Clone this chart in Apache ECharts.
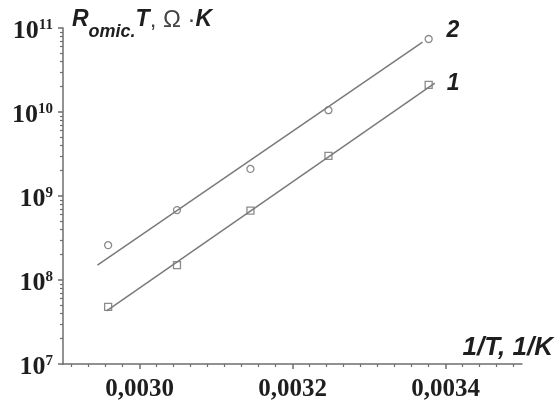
<!DOCTYPE html>
<html>
<head>
<meta charset="utf-8">
<script src="https://cdn.jsdelivr.net/npm/echarts@6/dist/echarts.min.js"></script>
<style>
  html, body { margin: 0; padding: 0; background: #fff; }
  #chart { width: 557px; height: 402px; }
</style>
</head>
<body>
<div id="chart"></div>
<script>
// Inverse temperature, 1/K
const invT = [0.002959, 0.003049, 0.003145, 0.003247, 0.003378];
// R_omic·T, Ω·K — sample 1 (squares)
const rt1 = [4.8e7, 1.5e8, 6.7e8, 3.0e9, 2.1e10];
// R_omic·T, Ω·K — sample 2 (circles)
const rt2 = [2.6e8, 6.8e8, 2.1e9, 1.05e10, 7.4e10];
// End points of the fitted straight lines
const fit1X = [0.002957, 0.003386];
const fit1Y = [4.3e7, 2.2e10];
const fit2X = [0.002945, 0.00337];
const fit2Y = [1.5e8, 6.8e10];
// Axis ticks
const xTickValues = [0.0030, 0.0032, 0.0034];
const xTickLabels = ['0,0030', '0,0032', '0,0034'];
const yTickExponents = [7, 8, 9, 10, 11];
const seriesNames = ['1', '2'];

const AXIS = '#6e6e6e';
const LINE = '#7a7a7a';
const INK = '#1e1e1e';
const xMin = 0.0029, xMax = 0.0035, xStep = 0.0002;
const yMin = Math.pow(10, yTickExponents[0]);
const yMax = Math.pow(10, yTickExponents[yTickExponents.length - 1]);

// minor ticks: nine sub-intervals between labelled x ticks
const xMinor = [];
for (let i = 0; i < 5; i++) {
  const m = (28 + 2 * i) / 10000;
  for (let k = 1; k < 9; k++) {
    const v = m + k * xStep / 9;
    if (v > xMin && v < xMax) xMinor.push(v);
  }
}
// minor ticks of the decade axis: 2..9 × 10^n
const yMinor = [];
for (let e = yTickExponents[0]; e < yTickExponents[yTickExponents.length - 1]; e++) {
  for (let k = 2; k <= 9; k++) yMinor.push(k * Math.pow(10, e));
}

const gridBox = { left: 63, top: 28, width: 459, height: 336 };
const serifBold = { fontFamily: 'Liberation Serif', fontWeight: 'bold', color: INK };
const sansBI = { fontFamily: 'Liberation Sans', fontStyle: 'italic', fontWeight: 'bold', color: INK };

const pairs = (xs, ys) => xs.map((x, i) => [x, ys[i]]);

const chart = echarts.init(document.getElementById('chart'), null, { renderer: 'canvas' });
chart.setOption({
  animation: false,
  backgroundColor: '#fff',
  grid: [Object.assign({}, gridBox), Object.assign({}, gridBox)],
  xAxis: [
    {
      gridIndex: 0, type: 'value', min: xMin, max: xMax, position: 'bottom',
      axisLine: { onZero: false, lineStyle: { color: AXIS, width: 1.5 } },
      axisTick: { customValues: xTickValues, length: 5, lineStyle: { color: AXIS, width: 1.5 } },
      axisLabel: Object.assign({
        customValues: xTickValues, fontSize: 25, margin: 13,
        formatter: v => {
          let best = 0;
          xTickValues.forEach((t, i) => { if (Math.abs(t - v) < Math.abs(xTickValues[best] - v)) best = i; });
          return xTickLabels[best];
        }
      }, serifBold),
      splitLine: { show: false },
      name: '1/T, 1/K', nameLocation: 'end', nameGap: 31,
      nameTextStyle: Object.assign({ fontSize: 26, align: 'right', verticalAlign: 'bottom', padding: [0, 0, 3, 0] }, sansBI)
    },
    {
      gridIndex: 1, type: 'value', min: xMin, max: xMax, position: 'bottom',
      axisLine: { show: false, onZero: false },
      axisTick: { customValues: xMinor, length: 3, lineStyle: { color: AXIS, width: 1.2 } },
      axisLabel: { show: false }, splitLine: { show: false }
    }
  ],
  yAxis: [
    {
      gridIndex: 0, type: 'log', logBase: 10, min: yMin, max: yMax, position: 'left',
      axisLine: { onZero: false, lineStyle: { color: AXIS, width: 1.5 } },
      axisTick: { length: 5, lineStyle: { color: AXIS, width: 1.5 } },
      axisLabel: {
        margin: 10, padding: [8, 0, 0, 0],
        formatter: v => '{b|10}{s|' + Math.round(Math.log10(v)) + '}',
        rich: {
          b: Object.assign({ fontSize: 26, lineHeight: 28, verticalAlign: 'top' }, serifBold),
          s: Object.assign({ fontSize: 15, lineHeight: 12, verticalAlign: 'top' }, serifBold)
        }
      },
      splitLine: { show: false },
      name: '{r|R}{s|omic.}{r|T}{n|, Ω ·}{r|K}',
      nameLocation: 'end', nameGap: 20,
      nameTextStyle: {
        align: 'left', verticalAlign: 'top', padding: [0, 0, 0, 9],
        rich: {
          r: Object.assign({ fontSize: 23, lineHeight: 24, verticalAlign: 'top' }, sansBI),
          s: Object.assign({ fontSize: 18, lineHeight: 16, verticalAlign: 'top', padding: [15, 0, 0, 0] }, sansBI),
          n: { fontFamily: 'Liberation Sans', fontSize: 24, lineHeight: 24, verticalAlign: 'top', color: '#444' }
        }
      }
    },
    {
      gridIndex: 1, type: 'log', logBase: 10, min: yMin, max: yMax, position: 'left',
      axisLine: { show: false, onZero: false },
      axisTick: { customValues: yMinor, length: 3, lineStyle: { color: AXIS, width: 1.2 } },
      axisLabel: { show: false }, splitLine: { show: false }
    }
  ],
  series: [
    {
      name: 'data ' + seriesNames[0], type: 'scatter', xAxisIndex: 0, yAxisIndex: 0,
      data: pairs(invT, rt1), symbol: 'rect', symbolSize: 7, z: 2,
      itemStyle: { color: '#fff', borderColor: AXIS, borderWidth: 1.3 }
    },
    {
      name: 'data ' + seriesNames[1], type: 'scatter', xAxisIndex: 0, yAxisIndex: 0,
      data: pairs(invT, rt2), symbol: 'circle', symbolSize: 7, z: 2,
      itemStyle: { color: '#fff', borderColor: AXIS, borderWidth: 1.3 }
    },
    {
      name: seriesNames[0], type: 'line', xAxisIndex: 0, yAxisIndex: 0,
      data: pairs(fit1X, fit1Y), showSymbol: false, symbol: 'none', z: 3,
      lineStyle: { color: LINE, width: 1.5 },
      endLabel: Object.assign({ show: true, formatter: '{a}', fontSize: 23, offset: [4, 0] }, sansBI)
    },
    {
      name: seriesNames[1], type: 'line', xAxisIndex: 0, yAxisIndex: 0,
      data: pairs(fit2X, fit2Y), showSymbol: false, symbol: 'none', z: 3,
      lineStyle: { color: LINE, width: 1.5 },
      endLabel: Object.assign({ show: true, formatter: '{a}', fontSize: 23, offset: [16, -11] }, sansBI)
    }
  ]
});
</script>
</body>
</html>
